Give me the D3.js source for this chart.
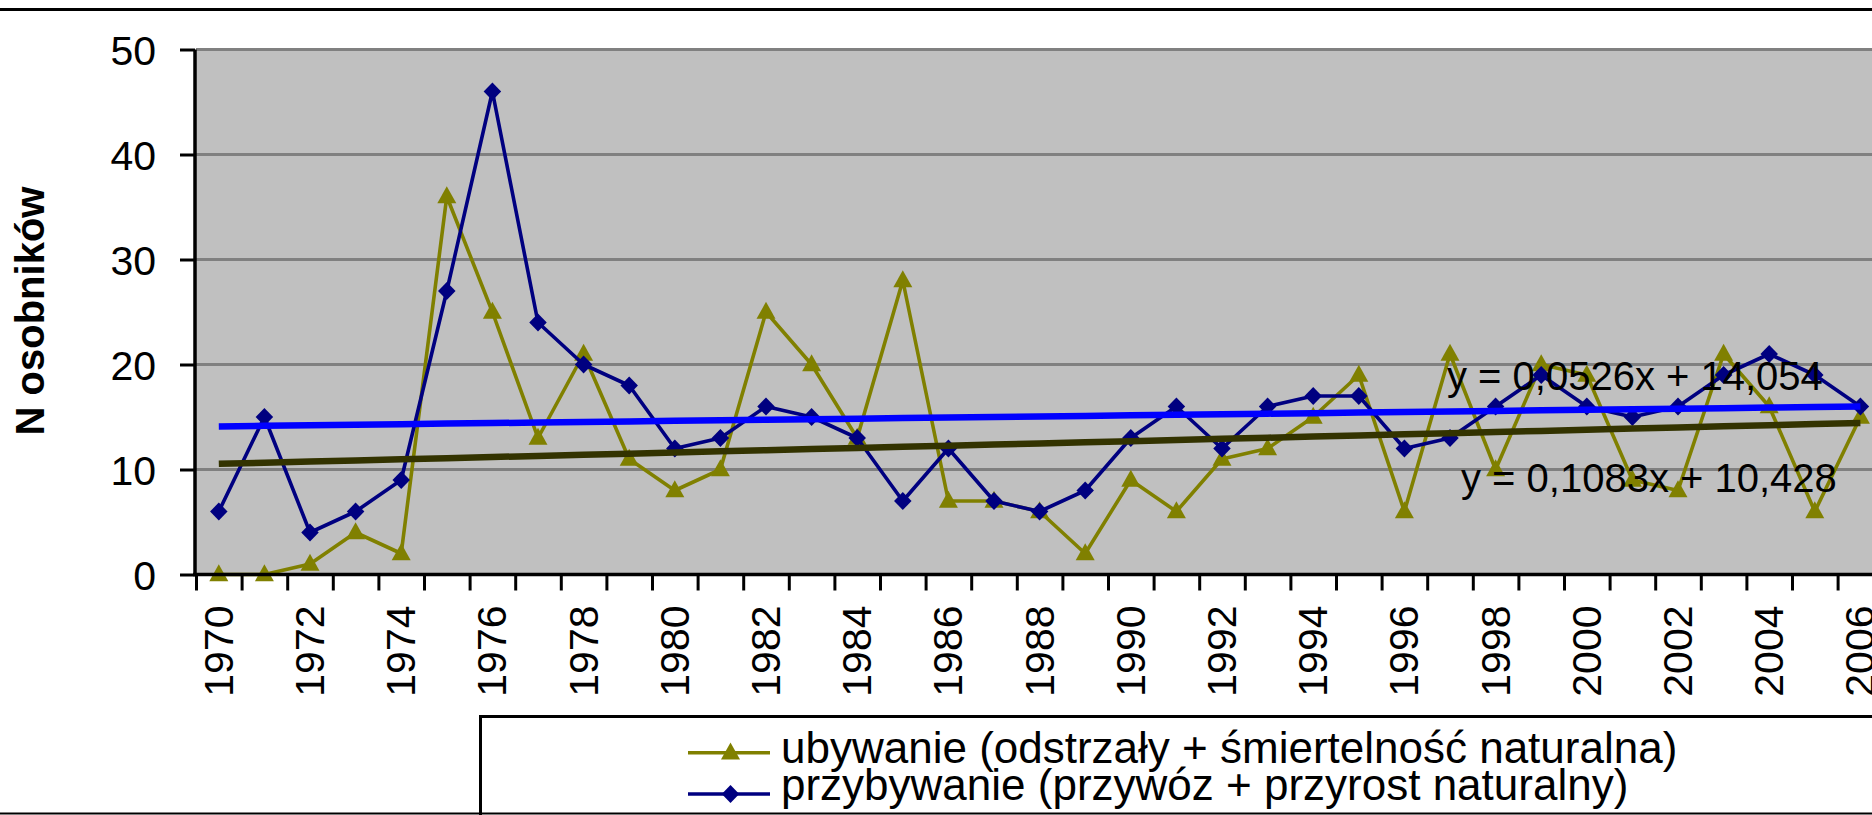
<!DOCTYPE html>
<html><head><meta charset="utf-8">
<script src="https://cdn.jsdelivr.net/npm/d3@7/dist/d3.min.js"></script>
<style>html,body{margin:0;padding:0;background:#fff;overflow:hidden}</style>
</head><body>
<svg id="chart" width="1872" height="815"></svg>
<script>
// ---------- data ----------
const years = [1970,1971,1972,1973,1974,1975,1976,1977,1978,1979,1980,1981,1982,1983,1984,1985,1986,1987,1988,1989,
               1990,1991,1992,1993,1994,1995,1996,1997,1998,1999,2000,2001,2002,2003,2004,2005,2006];
const ubywanie = [0,0,1,4,2,36,25,13,21,11,8,10,25,20,13,28,7,7,6,2,
                  9,6,11,12,15,19,6,21,10,20,19,9,8,21,16,6,15];
const przybywanie = [6,15,4,6,9,27,46,24,20,18,12,13,16,15,13,7,12,7,6,8,
                     13,16,12,16,17,17,12,13,16,19,16,15,16,19,21,19,16];
const seriesNames = ["ubywanie (odstrzały + śmiertelność naturalna)", "przybywanie (przywóz + przyrost naturalny)"];
const trendSlopes = [0.1083, 0.0526];
const trendIntercepts = [10.428, 14.054];
const trendLabels = ["y = 0,1083x + 10,428", "y = 0,0526x + 14,054"];
const yTicks = [0,10,20,30,40,50];
const xLabelYears = [1970,1972,1974,1976,1978,1980,1982,1984,1986,1988,1990,1992,1994,1996,1998,2000,2002,2004,2006];
const yTitle = "N osobników";

// ---------- layout ----------
const W = 1872, H = 815;
const plotLeft = 196, plotTop = 49.5, plotBottom = 574.5, band = 45.6;
const font = "'Liberation Sans', Arial, sans-serif";
const svg = d3.select("#chart");

const x = d3.scaleBand().domain(years).range([plotLeft, plotLeft + band * years.length]).padding(0);
const xc = d => x(d) + x.bandwidth() / 2;
const y = d3.scaleLinear().domain([0, 50]).range([plotBottom, plotTop]);

// top border line
svg.append("line").attr("x1", 0).attr("x2", W).attr("y1", 9.5).attr("y2", 9.5)
  .attr("stroke", "#000").attr("stroke-width", 3);

// plot area
svg.append("rect").attr("x", plotLeft).attr("y", y(50))
  .attr("width", W - plotLeft + 20).attr("height", y(0) - y(50)).attr("fill", "#C0C0C0");

// gridlines
svg.append("g").selectAll("line").data(yTicks.filter(d => d > 0)).join("line")
  .attr("x1", plotLeft).attr("x2", W + 10)
  .attr("y1", d => y(d)).attr("y2", d => y(d))
  .attr("stroke", "#808080").attr("stroke-width", 3);

const colorsSeries = ["#808000", "#000080"];
const colorsTrend = ["#333300", "#0000FF"];

// series lines and markers
const dataSets = [ubywanie, przybywanie];
const triPath = (w, h) => `M0,${-h*0.6}L${w/2},${h*0.4}L${-w/2},${h*0.4}Z`;
const diaPath = (w, h) => `M0,${-h/2}L${w/2},0L0,${h/2}L${-w/2},0Z`;
const markerPaths = [triPath(19, 17), diaPath(17.5, 18)];
[0, 1].forEach(k => {
  const vals = dataSets[k];
  const line = d3.line().x((d, i) => xc(years[i])).y(d => y(d));
  svg.append("path").attr("d", line(vals)).attr("fill", "none")
    .attr("stroke", colorsSeries[k]).attr("stroke-width", 3.6).attr("stroke-linejoin", "round");
  svg.append("g").selectAll("path").data(vals).join("path")
    .attr("transform", (d, i) => `translate(${xc(years[i])},${y(d)})`)
    .attr("d", markerPaths[k]).attr("fill", colorsSeries[k]);
});

// trend lines (drawn over the series, as in the original)
[0, 1].forEach(k => {
  const pts = years.map((yr, i) => [xc(yr), y(trendSlopes[k] * (i + 1) + trendIntercepts[k])]);
  svg.append("path").attr("d", d3.line()(pts)).attr("fill", "none")
    .attr("stroke", colorsTrend[k]).attr("stroke-width", 6.5);
});

// trend equation labels
const eqPos = [[1461, 492], [1447, 390]];
[0, 1].forEach(k => {
  svg.append("text").attr("x", eqPos[k][0]).attr("y", eqPos[k][1])
    .attr("font-family", font).attr("font-size", 40).attr("fill", "#000")
    .text(trendLabels[k]);
});

// y axis
const yAxis = svg.append("g").attr("transform", `translate(${plotLeft - 1},0)`)
  .call(d3.axisLeft(y).tickValues(yTicks).tickSize(15).tickPadding(24).tickFormat(d3.format("d")));
yAxis.select(".domain").attr("stroke", "#000").attr("stroke-width", 3.5).attr("d", `M0,${y(50)}V${y(0)}`);
yAxis.selectAll(".tick line").attr("stroke", "#000").attr("stroke-width", 3);
yAxis.selectAll(".tick text").attr("font-family", font).attr("font-size", 41).attr("fill", "#000")
  .attr("dy", "0.36em");

// x axis (ticks at band boundaries)
const bounds = years.map(d => x(d)).concat([x(years[years.length - 1]) + band]);
const xLin = d3.scaleLinear().domain([0, 1]).range([0, 1]);
const xAxis = svg.append("g").attr("transform", `translate(0,${plotBottom})`)
  .call(d3.axisBottom(xLin).tickValues(bounds).tickSize(16).tickFormat(""));
xAxis.select(".domain").attr("stroke", "#000").attr("stroke-width", 3.5)
  .attr("d", `M${plotLeft - 3},0H${W + 10}`);
xAxis.selectAll(".tick line").attr("stroke", "#000").attr("stroke-width", 3);

// x labels (rotated)
svg.append("g").selectAll("text").data(xLabelYears).join("text")
  .attr("transform", d => `translate(${xc(d) + 14},${plotBottom + 31}) rotate(-90)`)
  .attr("text-anchor", "end")
  .attr("font-family", font).attr("font-size", 41).attr("fill", "#000")
  .text(d => d);

// y title
svg.append("text").attr("transform", `translate(43.5,311) rotate(-90)`)
  .attr("text-anchor", "middle").attr("font-family", font).attr("font-weight", "bold")
  .attr("font-size", 40).attr("fill", "#000").text(yTitle);

// legend
const lg = svg.append("g");
lg.append("rect").attr("x", 480.5).attr("y", 716.5).attr("width", W).attr("height", 200)
  .attr("fill", "#fff").attr("stroke", "#000").attr("stroke-width", 3);
const legendRowsY = [752.7, 794];
const legendBaselines = [763, 800];
[0, 1].forEach(k => {
  const ry = legendRowsY[k];
  lg.append("line").attr("x1", 688).attr("x2", 770).attr("y1", ry).attr("y2", ry)
    .attr("stroke", colorsSeries[k]).attr("stroke-width", 3.6);
  lg.append("path").attr("transform", `translate(730.5,${ry})`).attr("d", markerPaths[k]).attr("fill", colorsSeries[k]);
  lg.append("text").attr("x", 781).attr("y", legendBaselines[k]).attr("font-family", font).attr("font-size", 44)
    .attr("fill", "#000").text(seriesNames[k]);
});

// bottom border line
svg.append("line").attr("x1", 0).attr("x2", W).attr("y1", 813.5).attr("y2", 813.5)
  .attr("stroke", "#000").attr("stroke-width", 2);
</script>
</body></html>
